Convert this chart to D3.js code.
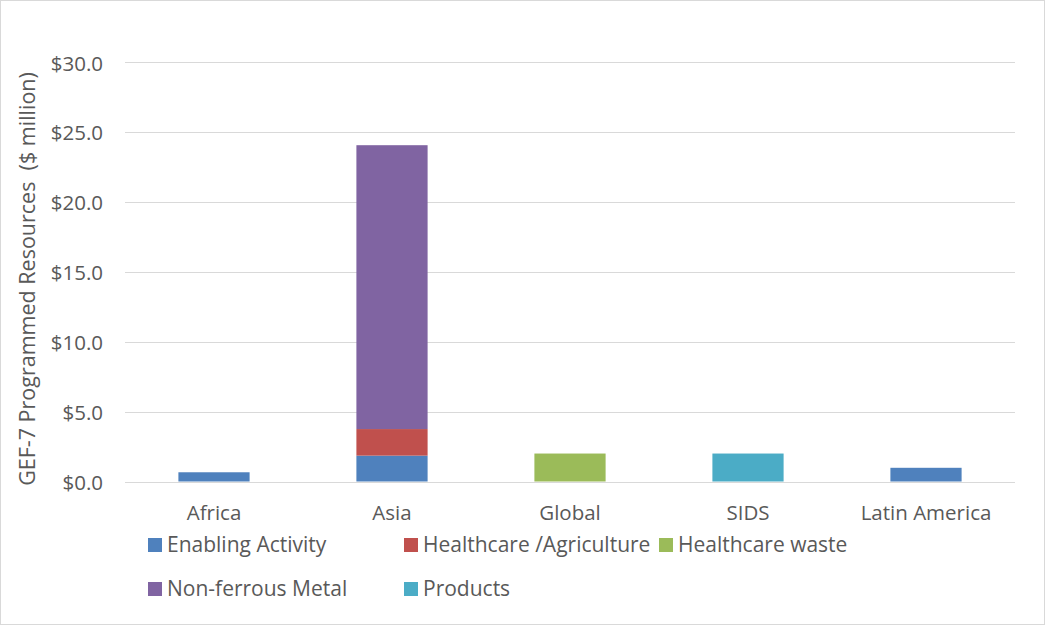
<!DOCTYPE html>
<html>
<head>
<meta charset="utf-8">
<script src="https://cdn.jsdelivr.net/npm/d3@7"></script>
<style>
  html, body { margin: 0; padding: 0; background: #fff; }
  svg { display: block; font-family: "Open Sans", "Noto Sans", sans-serif; }
</style>
</head>
<body>
<svg id="chart" width="1045" height="625"></svg>
<script>
// Regions (x categories)
const regions = ["Africa", "Asia", "Global", "SIDS", "Latin America"];

// Programmed resources per focal area, $ million, one value per region
const enablingActivity   = [0.66, 1.85, 0, 0, 0.98];
const healthcareAgri     = [0, 1.90, 0, 0, 0];
const healthcareWaste    = [0, 0, 2.0, 0, 0];
const nonFerrousMetal    = [0, 20.3, 0, 0, 0];
const products           = [0, 0, 0, 2.0, 0];

const seriesNames = ["Enabling Activity", "Healthcare /Agriculture", "Healthcare waste", "Non-ferrous Metal", "Products"];
const seriesValues = [enablingActivity, healthcareAgri, healthcareWaste, nonFerrousMetal, products];
const seriesColors = ["#4F81BD", "#C0504D", "#9BBB59", "#8064A2", "#4BACC6"];

const yTicks = [0, 5, 10, 15, 20, 25, 30];
const yTitle = "GEF-7 Programmed Resources\u00a0\u00a0($ million)";

const svg = d3.select("#chart");
const W = 1045, H = 625;
const plot = { left: 125, right: 1015, top: 62, bottom: 481.5 };
const textColor = "#595959";
const fontSize = 20.5;
const legendFontSize = 21;

// outer chart border
svg.append("rect")
  .attr("x", 0.5).attr("y", 0.5).attr("width", W - 1).attr("height", H - 1)
  .attr("fill", "#fff").attr("stroke", "#d9d9d9");

const x = d3.scaleBand().domain(regions).range([plot.left, plot.right]).paddingInner(0.6).paddingOuter(0.3);
const y = d3.scaleLinear().domain([0, 30]).range([plot.bottom, plot.top]);

// table of rows for stacking
const rows = regions.map((r, i) => {
  const o = { region: r };
  seriesNames.forEach((s, k) => { o[s] = seriesValues[k][i]; });
  return o;
});
const stacked = d3.stack().keys(seriesNames)(rows);

// gridlines
svg.append("g")
  .selectAll("line")
  .data(yTicks)
  .join("line")
  .attr("x1", plot.left).attr("x2", plot.right)
  .attr("y1", d => Math.round(y(d)) + 0.5).attr("y2", d => Math.round(y(d)) + 0.5)
  .attr("stroke", "#d9d9d9").attr("stroke-width", 1);

// y axis labels
const yAxis = d3.axisLeft(y).tickValues(yTicks).tickSize(0).tickPadding(0)
  .tickFormat(d => "$" + d3.format(".1f")(d));
const gy = svg.append("g").attr("transform", `translate(103,1.5)`).call(yAxis);
gy.select(".domain").remove();
gy.selectAll("text").attr("fill", textColor).style("font-size", fontSize + "px")
  .style("font-family", '"Open Sans", sans-serif');

// x axis labels
const xAxis = d3.axisBottom(x).tickSize(0).tickPadding(0);
const gx = svg.append("g").attr("transform", `translate(0,505.5)`).call(xAxis);
gx.select(".domain").remove();
gx.selectAll("text").attr("fill", textColor).style("font-size", fontSize + "px")
  .style("font-family", '"Open Sans", sans-serif');

// stacked bars
svg.append("g")
  .selectAll("g")
  .data(stacked)
  .join("g")
  .attr("fill", (d, i) => seriesColors[i])
  .selectAll("rect")
  .data(d => d.filter(p => p[1] - p[0] > 0))
  .join("rect")
  .attr("x", d => x(d.data.region))
  .attr("width", x.bandwidth())
  .attr("y", d => y(d[1]))
  .attr("height", d => y(d[0]) - y(d[1]));

// y axis title
svg.append("text")
  .attr("transform", `translate(35,279) rotate(-90)`)
  .attr("text-anchor", "middle")
  .attr("fill", textColor)
  .style("font-size", "21.5px")
  .text(yTitle);

// legend
const legendPos = [[148, 545], [404, 545], [659, 545], [148, 589], [404, 589]];
const legend = svg.append("g")
  .selectAll("g")
  .data(seriesNames)
  .join("g")
  .attr("transform", (d, i) => `translate(${legendPos[i][0]},${legendPos[i][1]})`);
legend.append("rect")
  .attr("x", 0).attr("y", -7).attr("width", 14).attr("height", 14)
  .attr("fill", (d, i) => seriesColors[i]);
legend.append("text")
  .attr("x", 19).attr("y", 0).attr("dy", "0.35em")
  .attr("fill", textColor)
  .style("font-size", legendFontSize + "px")
  .text(d => d);
</script>
</body>
</html>
